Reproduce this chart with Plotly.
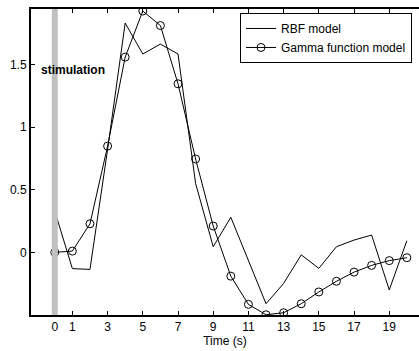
import plotly.graph_objects as go

# Time samples (s)
time_s = list(range(0, 21))

# RBF model response
rbf_model = [0.33, -0.13, -0.136, 0.82, 1.83, 1.583, 1.662, 1.583, 0.55, 0.045,
             0.28, -0.06, -0.41, -0.248, -0.02, -0.128, 0.045, 0.098, 0.138, -0.30, 0.093]

# Gamma function model response
gamma_model = [0.0, 0.01, 0.228, 0.848, 1.558, 1.926, 1.81, 1.345, 0.745, 0.21,
               -0.19, -0.415, -0.498, -0.482, -0.41, -0.316, -0.231, -0.158, -0.104, -0.066, -0.043]

# Axis ticks
x_ticks = [0, 1, 3, 5, 7, 9, 11, 13, 15, 17, 19]
y_ticks = [0, 0.5, 1, 1.5]
y_tick_text = ["0", "0.5", "1", "1.5"]

# Stimulation onset
stim_time = 0.0
stim_halfwidth = 0.17

x_range = [-1.35, 20.69]
y_range = [-0.5, 1.942]

FONT = "Liberation Sans, Arial, sans-serif"

fig = go.Figure()

fig.add_trace(go.Scatter(
    x=time_s, y=rbf_model, mode="lines", name="RBF model",
    line=dict(color="black", width=1),
))
fig.add_trace(go.Scatter(
    x=time_s, y=gamma_model, mode="lines+markers", name="Gamma function model",
    line=dict(color="black", width=1),
    marker=dict(symbol="circle-open", size=8, color="black", line=dict(width=1, color="black")),
))

# Stimulation marker drawn over the curves
fig.add_shape(type="rect", xref="x", yref="y",
              x0=stim_time - stim_halfwidth, x1=stim_time + stim_halfwidth,
              y0=y_range[0], y1=y_range[1],
              fillcolor="#c0c0c0", line=dict(width=0), layer="above")

fig.add_annotation(x=-0.88, y=1.457, xref="x", yref="y", text="<b>stimulation</b>",
                   showarrow=False, xanchor="left", yanchor="middle",
                   font=dict(family=FONT, size=12, color="black"))

fig.update_layout(
    width=419, height=351,
    margin=dict(l=31, r=0, t=9, b=36),
    paper_bgcolor="white", plot_bgcolor="white",
    font=dict(family=FONT, size=12, color="black"),
    showlegend=True,
    legend=dict(x=0.982, y=0.987, xanchor="right", yanchor="top",
                bgcolor="white", bordercolor="black", borderwidth=1,
                font=dict(family=FONT, size=12, color="black"),
                tracegroupgap=0, itemwidth=30),
    xaxis=dict(
        range=x_range, tickvals=x_ticks, ticktext=[str(t) for t in x_ticks],
        ticks="inside", ticklen=4, tickcolor="black", tickwidth=1,
        showline=True, linecolor="black", linewidth=2, mirror="ticks",
        showgrid=False, zeroline=False,
        title=dict(text="Time (s)", standoff=2, font=dict(size=12)),
        tickfont=dict(size=12),
    ),
    yaxis=dict(
        range=y_range, tickvals=y_ticks, ticktext=y_tick_text,
        ticks="inside", ticklen=4, tickcolor="black", tickwidth=1,
        showline=True, linecolor="black", linewidth=2, mirror=False,
        showgrid=False, zeroline=False, tickfont=dict(size=12),
    ),
    yaxis2=dict(
        range=y_range, tickvals=y_ticks, overlaying="y", side="right",
        ticks="inside", ticklen=4, tickcolor="black", tickwidth=1,
        showticklabels=False, showline=False, showgrid=False, zeroline=False,
    ),
)

fig.write_html("out.html")
